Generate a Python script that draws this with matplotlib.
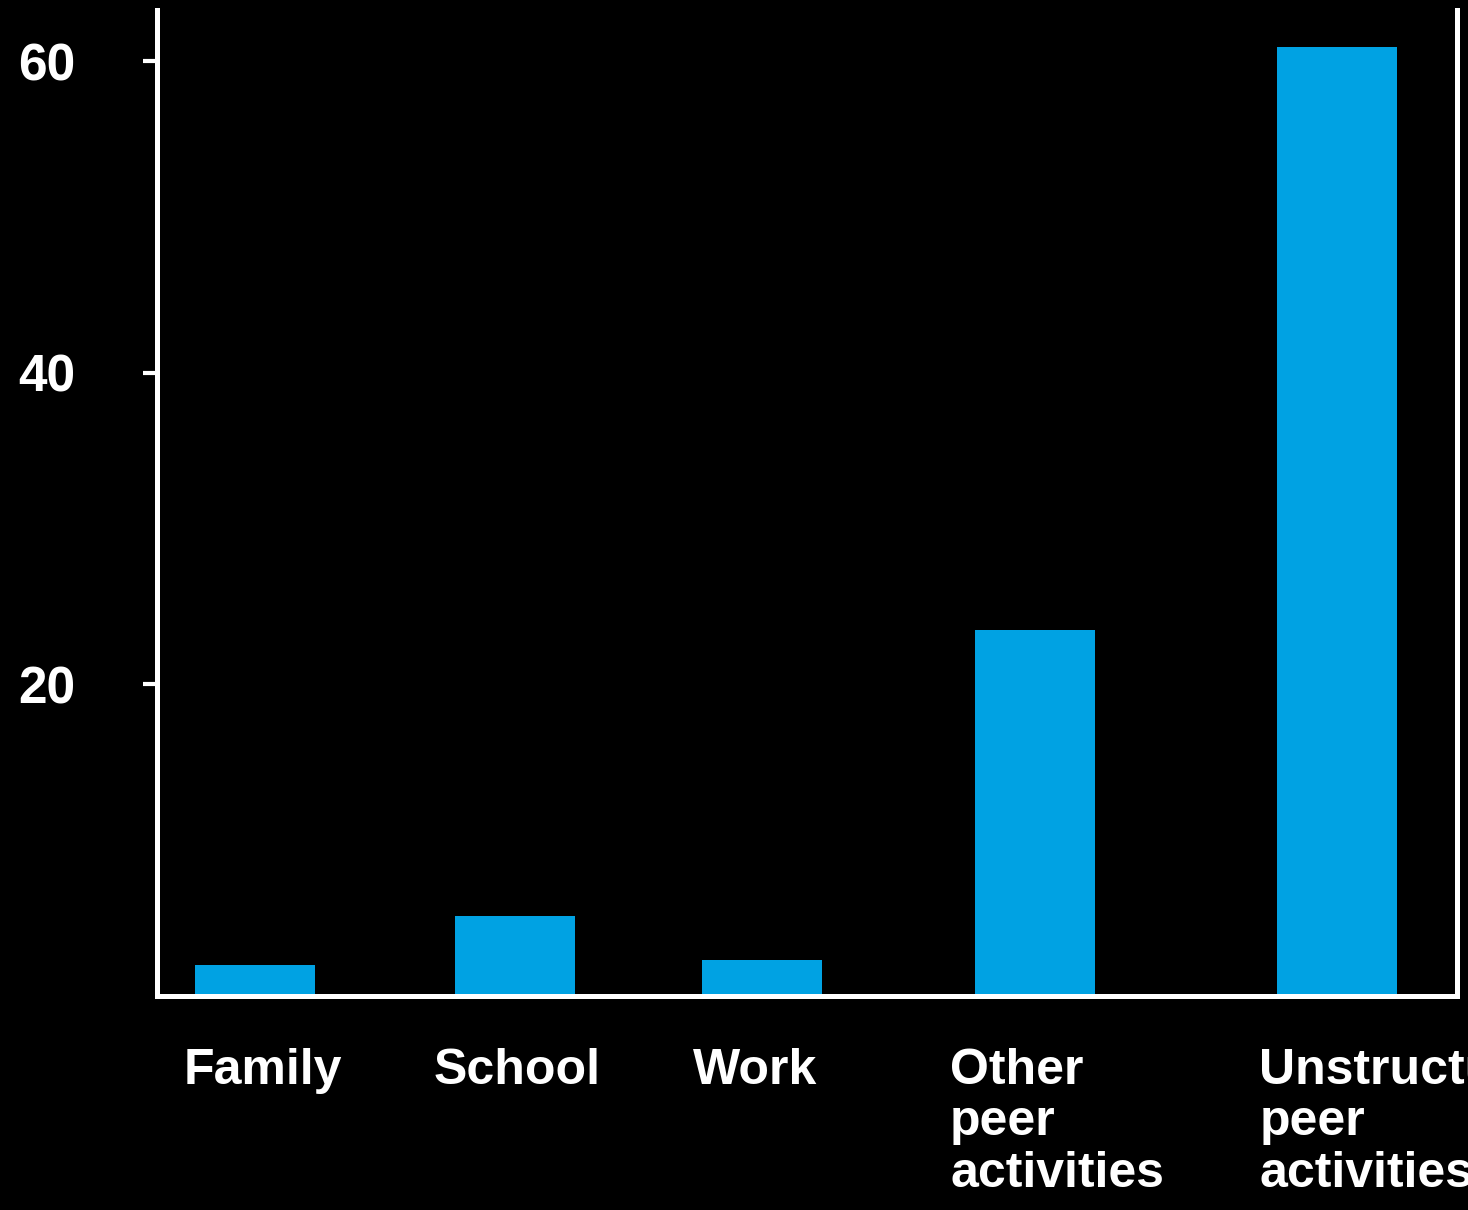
import matplotlib.pyplot as plt

categories = ["Family", "School", "Work", "Other\npeer\nactivities", "Unstructured\npeer\nactivities"]
values = [2.0, 5.1, 2.3, 23.5, 60.9]
yticks = [20, 40, 60]

# layout: bar centres and label anchors along x
xpos = [0.377, 1.377, 2.327, 3.377, 4.538]
label_x = [0.405, 1.385, 2.30, 3.05, 4.24]
label_ha = ["center", "center", "center", "left", "left"]

plt.rcParams["font.family"] = ["Liberation Sans", "DejaVu Sans"]
plt.rcParams["font.weight"] = "bold"

fig = plt.figure(figsize=(14.68, 12.10), dpi=100, facecolor="black")
ax = fig.add_axes([0.107, 0.177, 0.8855, 0.815], facecolor="black")

ax.bar(xpos, values, width=0.46, color="#00A2E3")

ax.set_xlim(0, 5)
ax.set_ylim(0, 63.3)

ax.set_yticks(yticks)
ax.set_yticklabels([str(t) for t in yticks], fontsize=37, color="white", fontweight="bold")
ax.tick_params(axis="y", length=10, width=3, color="white", pad=49)
ax.set_xticks([])

for s in ["left", "bottom", "right"]:
    ax.spines[s].set_color("white")
    ax.spines[s].set_linewidth(3.6)
ax.spines["top"].set_visible(False)

for x, lab, ha in zip(label_x, categories, label_ha):
    ax.text(x, -0.053, lab, transform=ax.get_xaxis_transform(), ha=ha, va="top",
            fontsize=36, color="white", fontweight="bold", linespacing=1.15,
            multialignment="left")

fig.savefig("out.png", dpi=100, facecolor="black")
